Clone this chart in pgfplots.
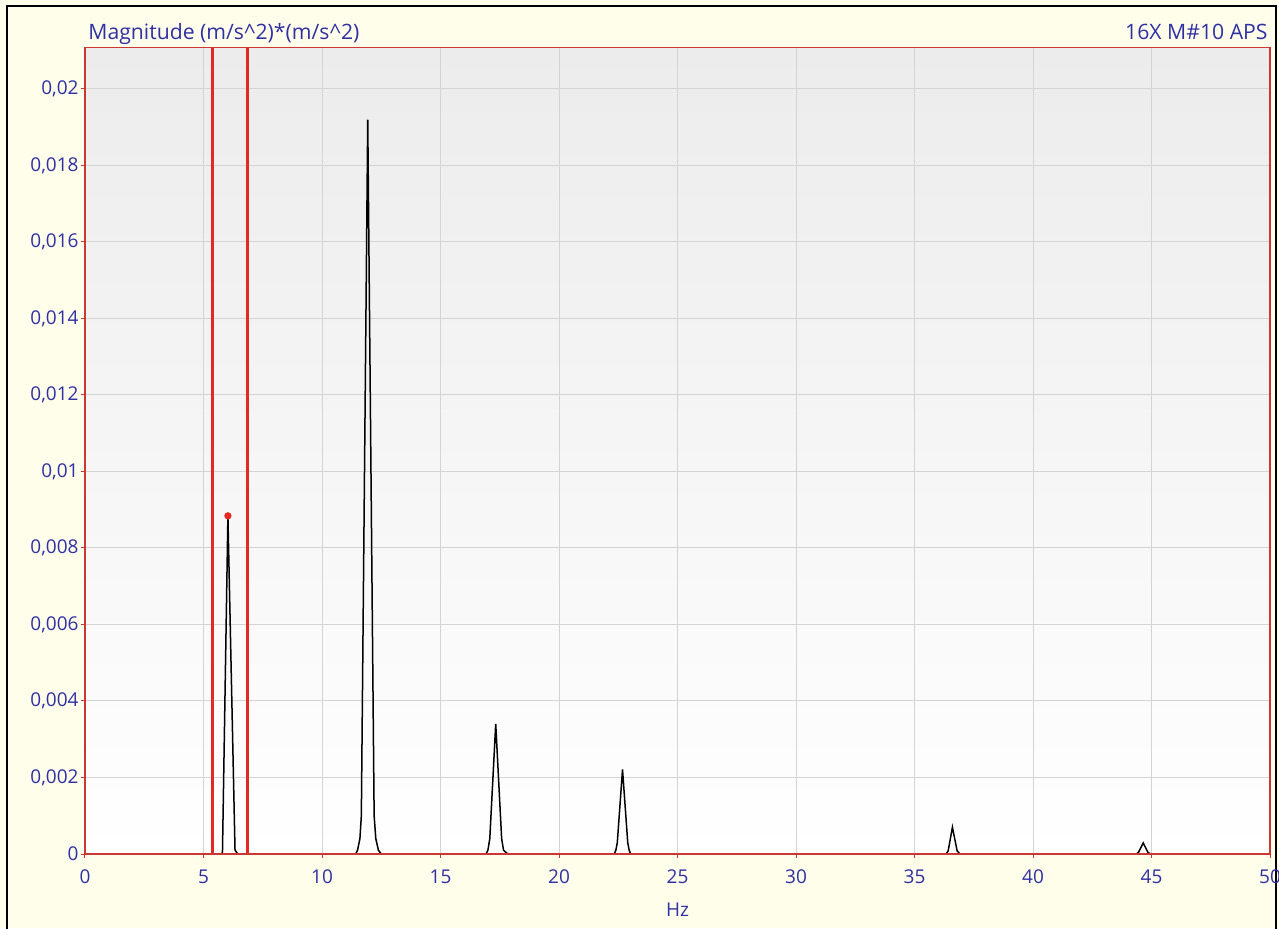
\documentclass[border=0pt]{standalone}
\usepackage{fontspec}
\setmainfont{Open Sans}
\usepackage{pgfplots}
\pgfplotsset{compat=1.18}
\definecolor{bgyellow}{RGB}{255,254,234}
\definecolor{txtblue}{RGB}{48,48,165}
\definecolor{framered}{RGB}{205,55,50}
\definecolor{cursorred}{RGB}{228,40,35}
\definecolor{gridgray}{RGB}{212,212,212}
\definecolor{topgray}{RGB}{236,236,236}
\begin{document}
\begin{tikzpicture}
\useasboundingbox (0pt,0pt) rectangle (639.5pt,464pt);
\fill[bgyellow] (0pt,0pt) rectangle (639.5pt,464pt);
\draw[black, line width=1.1pt] (3.5pt,-2pt) -- (3.5pt,461pt) -- (638pt,461pt) -- (638pt,-2pt);
\begin{axis}[
  at={(42.5pt,37pt)}, anchor=south west,
  scale only axis, width=592.5pt, height=403.2pt,
  xmin=0, xmax=50, ymin=0, ymax=0.02108,
  xtick={0,5,...,50},
  ytick={0,0.002,0.004,0.006,0.008,0.01,0.012,0.014,0.016,0.018,0.02},
  scaled y ticks=false,
  /pgf/number format/assume math mode=true,
  yticklabel style={/pgf/number format/.cd, use comma, fixed, precision=3},
  xticklabel style={/pgf/number format/.cd, use comma, fixed},
  ticklabel style={font=\fontsize{9.5}{11}\selectfont, text=txtblue},
  tick align=outside, tick pos=left,
  major tick length=2.2pt,
  tick style={framered, line width=0.5pt},
  xticklabel shift=2pt, yticklabel shift=-2.5pt,
  grid=major,
  major grid style={gridgray, line width=0.5pt},
  axis line style={framered, line width=0.8pt},
  axis background/.style={top color=topgray, bottom color=white},
  xlabel={Hz},
  xlabel style={font=\fontsize{9.5}{11}\selectfont, text=txtblue, yshift=-3pt},
  clip=true,
]
% spectrum
\addplot[black, line width=0.75pt] table {
x y
0 0
5.75 0
5.80 0.00003
6.03 0.00884
6.33 0.00010
6.45 0
11.42 0
11.50 0.00010
11.60 0.00040
11.66 0.00100
11.93 0.01920
12.20 0.00100
12.27 0.00040
12.38 0.00010
12.50 0
16.92 0
17.00 0.00010
17.08 0.00040
17.33 0.00340
17.58 0.00040
17.66 0.00010
17.80 0.00002
17.92 0
22.33 0
22.40 0.00010
22.46 0.00030
22.68 0.00221
22.90 0.00030
22.96 0.00010
23.03 0
36.33 0
36.42 0.00008
36.60 0.00070
36.80 0.00008
36.92 0
44.35 0
44.45 0.00004
44.65 0.00029
44.85 0.00004
44.97 0
50 0
};
% cursors
\addplot[cursorred, line width=1.5pt] coordinates {(5.36,0) (5.36,0.0211)};
\addplot[cursorred, line width=1.5pt] coordinates {(6.84,0) (6.84,0.0211)};
% marker on peak
\addplot[only marks, mark=*, mark size=1.6pt, color=cursorred] coordinates {(6.03,0.00884)};
% frame redrawn on top
\draw[framered, line width=0.8pt] (rel axis cs:0,0) rectangle (rel axis cs:1,1);
\end{axis}
\node[anchor=base west, inner sep=0pt, text=txtblue, font=\fontsize{10.6}{12}\selectfont] at (44pt,444pt) {Magnitude (m/s\textasciicircum 2)*(m/s\textasciicircum 2)};
\node[anchor=base east, inner sep=0pt, text=txtblue, font=\fontsize{10.6}{12}\selectfont] at (634pt,444pt) {16X M\#10 APS};
\end{tikzpicture}
\end{document}
